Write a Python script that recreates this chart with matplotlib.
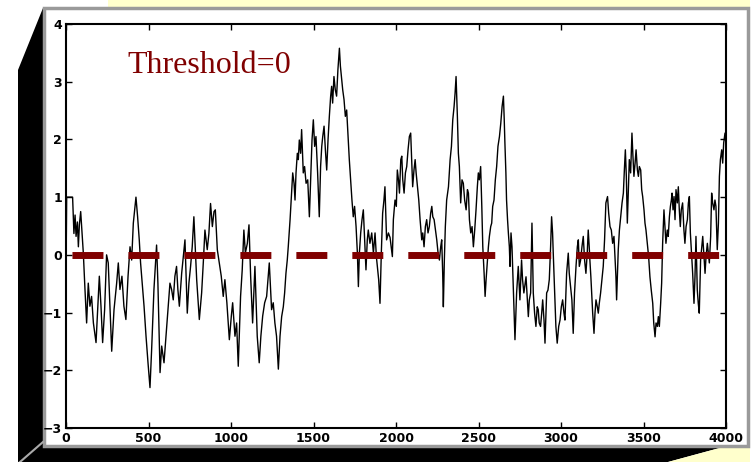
import matplotlib
matplotlib.use("Agg")
import matplotlib.pyplot as plt
from matplotlib.patches import Polygon, Rectangle

# trace of the signal
t = [0, 4, 40, 48, 55, 61, 69, 75, 81, 89, 97, 105, 115, 125, 135, 145, 155, 166,
     182, 192, 202, 212, 222, 234, 246, 256, 267, 277, 291, 307, 317, 327, 339,
     351, 363, 376, 388, 398, 408, 424, 434, 444, 452, 462, 473, 485, 497, 509,
     519, 533, 549, 557, 570, 580, 594, 606, 620, 630,
     640, 650, 660, 670, 678, 687, 701, 711, 721, 735, 745, 755, 765, 775, 784,
     792, 808, 822, 832, 842, 856, 866, 876, 887, 897, 905, 917, 929, 941, 953,
     963, 975, 990, 1002, 1010, 1024, 1034, 1044, 1058, 1068, 1078, 1087, 1099,
     1109, 1119, 1131, 1139, 1145, 1159, 1171, 1181, 1192, 1204, 1216, 1232,
     1246, 1256, 1266, 1276, 1287, 1297,
     1307, 1317, 1325, 1333, 1341, 1347, 1358, 1366, 1374, 1382, 1388, 1394,
     1402, 1408, 1414, 1422, 1428, 1438, 1446, 1455, 1465, 1475, 1483, 1491,
     1499, 1507, 1515, 1525, 1535, 1543, 1550, 1556, 1564, 1572, 1580, 1588,
     1596, 1604, 1610, 1616, 1624, 1632, 1640, 1648, 1657, 1663, 1671, 1677,
     1685, 1693, 1701, 1711, 1717, 1725, 1733, 1741, 1749, 1758, 1766, 1772,
     1778, 1786, 1794, 1802, 1810, 1818, 1826, 1832, 1842, 1853, 1863, 1873,
     1881, 1887, 1895, 1903, 1911, 1919, 1927, 1933, 1943, 1954, 1964, 1978,
     1984, 1994, 2002, 2008, 2015, 2021, 2029, 2035, 2041, 2049, 2057, 2065,
     2073, 2081, 2089, 2095, 2101, 2109, 2116, 2122, 2130, 2138, 2146, 2156,
     2162, 2170, 2178, 2186, 2194, 2202, 2210, 2217, 2223, 2231, 2239, 2247,
     2255, 2263, 2271, 2277, 2283, 2287, 2293, 2299, 2307, 2318, 2328, 2336,
     2344, 2352, 2358, 2364, 2372, 2378, 2384, 2392, 2400, 2408, 2416, 2425,
     2433, 2439, 2445, 2453, 2461, 2469, 2477, 2485, 2493, 2499, 2505, 2513,
     2520, 2526, 2534, 2540, 2546, 2554, 2560, 2566, 2574, 2580, 2586, 2594,
     2602, 2610, 2618, 2627, 2635, 2643, 2651,
     2656, 2660, 2666, 2670, 2676, 2681, 2687, 2691, 2697, 2703, 2711, 2721,
     2727, 2731, 2741, 2751, 2761, 2767, 2775, 2788, 2796, 2802, 2808, 2816,
     2824, 2832, 2840, 2848, 2856, 2862, 2868, 2876, 2883, 2889, 2897, 2903,
     2909, 2913, 2921, 2929, 2937, 2943, 2949, 2953, 2959, 2963, 2969, 2977,
     2986, 2994, 3002, 3010, 3018, 3024, 3030, 3034, 3044, 3050, 3058, 3066,
     3074, 3082, 3091, 3099, 3105, 3111, 3119, 3127, 3135, 3143, 3151, 3159,
     3165, 3171, 3175, 3181, 3186, 3192, 3200, 3206, 3212, 3220, 3226, 3232,
     3240, 3248, 3256, 3264, 3272, 3282, 3289, 3297,
     3305, 3313, 3321, 3327, 3333, 3337, 3343, 3347, 3354, 3362, 3370, 3378,
     3384, 3390, 3396, 3402, 3408, 3414, 3422, 3430, 3436, 3442, 3449, 3455,
     3463, 3469, 3475, 3483, 3489, 3495, 3503, 3509, 3515, 3523, 3531, 3539,
     3547, 3556, 3562, 3570, 3576, 3584, 3590, 3596, 3604, 3610, 3616, 3624,
     3630, 3636, 3644, 3650, 3657, 3663, 3669, 3673, 3679, 3685, 3691, 3697,
     3705, 3711, 3717, 3723, 3729, 3737, 3745, 3751, 3758, 3766, 3772, 3778,
     3784, 3790, 3798, 3806, 3812, 3818, 3826, 3832, 3838, 3846, 3852, 3859,
     3867, 3873, 3879, 3887, 3893, 3899, 3907, 3913, 3919, 3927, 3933, 3939,
     3947, 3954, 3960, 3966, 3974, 3980, 3986, 3994, 4000]

signal = [-0.37, 1.0, 1.0, 0.37, 0.69, 0.32, 0.57, 0.14, 0.52, 0.75, 0.4, 0.03,
          -0.6, -1.18, -0.49, -0.89, -0.72, -1.18, -1.52, -0.95, -0.37, -0.89,
          -1.52, -0.95, 0.0, -0.14, -0.95, -1.67, -0.95, -0.49, -0.14, -0.6,
          -0.37, -0.89, -1.12, -0.37, 0.14, -0.09, 0.55, 1.0, 0.66, 0.26, -0.14,
          -0.49, -0.89, -1.41, -1.87, -2.3, -1.64, -0.6, 0.17, -0.49, -2.04,
          -1.58, -1.87, -1.41, -0.89, -0.49,
          -0.6, -0.78, -0.37, -0.2, -0.6, -0.89, -0.32, -0.03, 0.26, -1.01,
          -0.49, -0.2, 0.14, 0.66, 0.09, -0.43, -1.12, -0.66, -0.14, 0.43, 0.09,
          0.37, 0.89, 0.49, 0.75, 0.78, 0.09, -0.14, -0.37, -0.72, -0.43, -0.83,
          -1.47, -1.06, -0.83, -1.41, -1.18, -1.93, -0.72, -0.26, 0.43, 0.03,
          0.2, 0.52, -0.37, -1.18, -0.6, -0.2, -1.41, -1.87, -1.41, -1.06, -0.83,
          -0.72, -0.14, -0.95, -0.83, -1.18, -1.41, -1.98, -1.41,
          -1.07, -0.9, -0.66, -0.32, -0.09, 0.14, 0.61, 1.01, 1.42, 1.24, 0.95,
          1.42, 1.76, 1.65, 1.99, 1.76, 2.17, 1.42, 1.53, 1.24, 1.3, 0.66, 1.3,
          1.99, 2.34, 1.88, 2.05, 1.42, 0.66, 1.53, 1.88, 2.05, 2.23, 1.82, 1.47,
          1.99, 2.4, 2.75, 2.92, 2.63, 3.09, 2.86, 2.75, 3.21, 3.58, 3.27, 3.03,
          2.86, 2.69, 2.4, 2.51, 1.99, 1.65, 1.3, 0.95, 0.66, 0.84, 0.49, 0.03,
          -0.55, 0.03, 0.38, 0.61, 0.78, 0.26, -0.26, 0.26, 0.43, 0.2, 0.38,
          0.03, 0.38, -0.03, -0.2, -0.43, -0.84, 0.03, 0.72, 0.95, 1.18, 0.26,
          0.38, 0.3, -0.03,
          0.61, 0.95, 0.84, 1.47, 1.3, 1.07, 1.65, 1.71, 1.3, 1.07, 1.42, 1.53,
          1.82, 2.05, 2.11, 1.65, 1.18, 1.47, 1.65, 1.42, 1.18, 0.95, 0.61, 0.26,
          0.38, 0.14, 0.49, 0.61, 0.38, 0.49, 0.72, 0.84, 0.66, 0.61, 0.43, 0.26,
          0.03, -0.09, 0.14, 0.26, -0.32, -0.9, -0.09, 0.49, 0.95, 1.18, 1.65,
          1.88, 2.34, 2.57, 2.8, 3.09, 2.4, 1.76, 1.53, 0.9, 1.3, 1.24, 0.95,
          0.78, 1.13, 1.07, 0.61, 0.38, 0.49, 0.14, 0.43, 0.78, 1.18, 1.42, 1.3,
          1.53, 0.84, 0.14, -0.32, -0.72, -0.43, -0.09, 0.14, 0.32, 0.49, 0.55,
          0.84, 0.95, 1.3, 1.53, 1.88, 2.05, 2.28, 2.57, 2.75,
          2.34, 1.94, 1.42, 0.95, 0.61, 0.38, 0.14, -0.2, 0.38, 0.14, -0.55,
          -1.47, -1.01, -0.66, -0.2, -0.78, -0.09, -0.43, -0.66, -0.38, -0.78,
          -1.07, -0.78, -0.66, 0.55, -0.66, -1.01, -1.24, -0.9, -0.95, -1.18,
          -1.24, -1.01, -0.78, -1.13, -1.53, -1.01, -0.66, -0.61, -0.43, 0.14,
          0.66, 0.38, 0.03, -0.43, -0.78, -1.24, -1.53, -1.24, -1.13, -0.9,
          -0.78, -1.01, -1.13, -0.66, -0.32, 0.03, -0.32, -0.55, -0.78, -1.36,
          -0.66, -0.2, 0.14, 0.26, -0.2, -0.09, 0.14, 0.32, -0.09, -0.32, 0.03,
          0.43, 0.14, -0.09, -0.38, -0.66, -1.01, -1.36, -1.01, -0.78, -0.9,
          -1.01, -0.84, -0.66, -0.43, -0.2, 0.26, 0.9, 1.01, 0.72, 0.49,
          0.43, 0.2, 0.32, -0.03, -0.38, -0.78, -0.26, 0.09, 0.43, 0.66, 0.9,
          1.07, 1.47, 1.82, 1.36, 0.55, 1.13, 1.65, 1.42, 2.11, 1.71, 1.36, 1.59,
          1.82, 1.47, 1.36, 1.53, 1.47, 1.13, 1.01, 0.78, 0.55, 0.43, 0.2, -0.03,
          -0.38, -0.61, -0.84, -1.18, -1.42, -1.18, -1.24, -1.07, -1.24, -0.84,
          -0.49, 0.2, 0.78, 0.49, 0.2, 0.43, 0.32, 0.66, 0.84, 0.95, 1.07, 0.78,
          1.01, 0.61, 1.13, 0.9, 1.18, 0.78, 0.49, 0.78, 0.9, 0.43, 0.2, 0.49,
          0.61, 0.9, 1.01, 0.38, 0.09, -0.32, -0.84, -0.38, 0.32, -0.61, -0.84,
          -1.01, -0.09, 0.09, 0.32, -0.03, -0.32, -0.03, 0.2, 0.03, -0.14, 0.32,
          1.07, 0.9, 0.78, 0.95, 0.84, 0.09, 0.55, 1.36, 1.65, 1.82, 1.59, 1.94,
          2.11, 1.9]

threshold = 0
x_ticks = [0, 500, 1000, 1500, 2000, 2500, 3000, 3500, 4000]
y_ticks = [-3, -2, -1, 0, 1, 2, 3, 4]

plt.rcParams["lines.scale_dashes"] = False

fig = plt.figure(figsize=(7.56, 4.62), dpi=100)

# 3D-looking frame behind the plot (pixel coordinates)
bg = fig.add_axes([0, 0, 1, 1])
bg.set_xlim(0, 756)
bg.set_ylim(462, 0)
bg.axis("off")
bg.add_patch(Rectangle((108, 0), 642, 8, facecolor="#ffffcc", edgecolor="none"))
bg.add_patch(Polygon([(18, 70), (43, 8), (43, 446), (727, 446), (668, 462), (18, 462)],
                     closed=True, facecolor="black", edgecolor="none"))
bg.add_patch(Polygon([(668, 462), (727, 446), (750, 446), (750, 462)],
                     closed=True, facecolor="#ffffcc", edgecolor="none"))
bg.add_patch(Rectangle((44, 8), 704, 438, facecolor="white", edgecolor="#9a9a9a", lw=2.5))
bg.plot([43, 20], [442, 462], color="#aaaaaa", lw=1.5)

ax = fig.add_axes([66 / 756, 1 - 428 / 462, 660 / 756, 404 / 462])
ax.set_facecolor("white")
ax.plot(t, signal, color="black", lw=1.0)
ax.axhline(threshold, color="#800000", lw=5, solid_capstyle="butt",
           dash_capstyle="butt", linestyle=(36, (22.3, 18)))

ax.text(370, 3.15, "Threshold=0", family="Liberation Serif", fontsize=23,
        color="#800000", va="baseline")

ax.set_xlim(0, 4000)
ax.set_ylim(-3, 4)
ax.set_xticks(x_ticks)
ax.set_yticks(y_ticks)
ax.tick_params(direction="in", length=4, width=1, top=True, right=True,
               labelsize=9, pad=3)
for lab in ax.get_xticklabels() + ax.get_yticklabels():
    lab.set_fontweight("bold")
    lab.set_family("DejaVu Sans")
for sp in ax.spines.values():
    sp.set_linewidth(1.5)

fig.savefig("out.png", dpi=100)
